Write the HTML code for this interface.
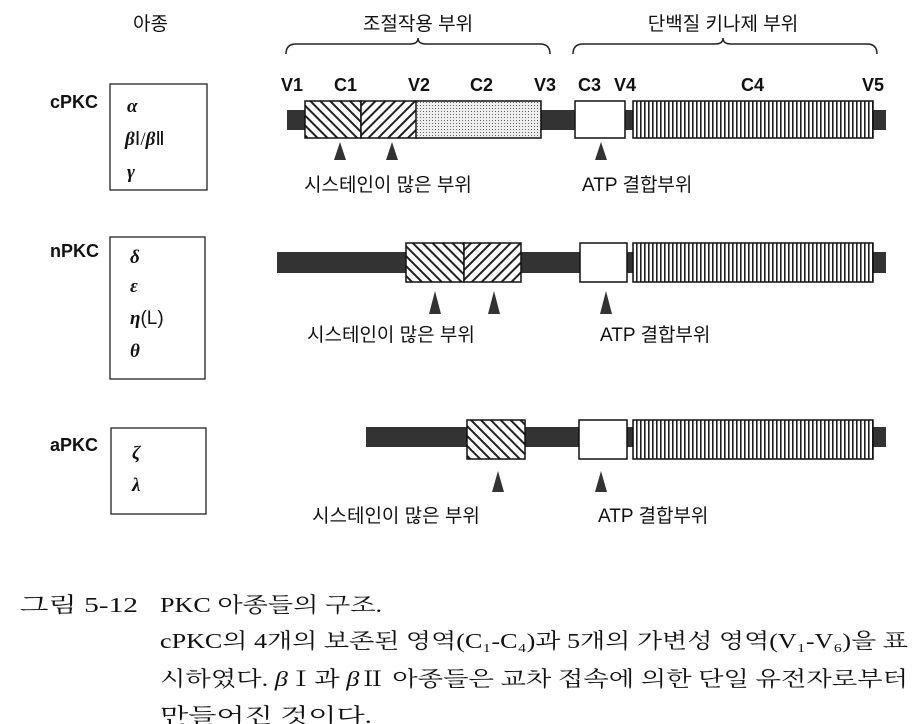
<!DOCTYPE html>
<html><head><meta charset="utf-8"><style>
body{margin:0;background:#fff;width:924px;height:724px;overflow:hidden}
svg{position:absolute;left:0;top:0}
.k{font-family:"Liberation Sans","Noto Sans CJK KR",sans-serif;font-size:19px;fill:#111}
.b{font-family:"Liberation Sans",sans-serif;font-weight:bold;font-size:18px;fill:#111}
.g{font-family:"Liberation Serif",serif;font-style:italic;font-weight:bold;font-size:19px;fill:#111}
.s{font-family:"Liberation Serif","Noto Serif CJK SC","Noto Sans CJK KR",serif;font-size:21px;fill:#111}
</style></head><body>
<svg width="924" height="724" viewBox="0 0 924 724">
<defs>
<pattern id="d2" width="7" height="7" patternUnits="userSpaceOnUse" patternTransform="rotate(45)"><rect width="7" height="7" fill="#fff"/><rect width="2" height="7" fill="#222"/></pattern>
<pattern id="d1" width="7" height="7" patternUnits="userSpaceOnUse" patternTransform="rotate(-45)"><rect width="7" height="7" fill="#fff"/><rect width="2" height="7" fill="#222"/></pattern>
<pattern id="vl" width="4" height="10" patternUnits="userSpaceOnUse"><rect width="4" height="10" fill="#fff"/><rect width="1.6" height="10" fill="#222"/></pattern>
<pattern id="dot" width="3" height="3" patternUnits="userSpaceOnUse"><rect width="3" height="3" fill="#eee"/><rect width="1" height="1" fill="#666"/></pattern>
</defs>
<text class="k" x="133" y="30">아종</text>
<text class="k" x="418" y="30" text-anchor="middle">조절작용 부위</text>
<text class="k" x="723" y="30" text-anchor="middle">단백질 키나제 부위</text>
<path d="M286 54 Q286 44 296 44 L410 44 Q418 44 418 38 Q418 44 426 44 L540 44 Q550 44 550 54" fill="none" stroke="#222" stroke-width="1.5"/>
<path d="M573 54 Q573 44 583 44 L715 44 Q723 44 723 38 Q723 44 731 44 L867 44 Q877 44 877 54" fill="none" stroke="#222" stroke-width="1.5"/>
<g class="b"><text x="281" y="91">V1</text><text x="334" y="91">C1</text><text x="408" y="91">V2</text><text x="470" y="91">C2</text><text x="534" y="91">V3</text><text x="578" y="91">C3</text><text x="614" y="91">V4</text><text x="741" y="91">C4</text><text x="862" y="91">V5</text></g>
<!-- row1 -->
<rect x="287" y="110" width="599" height="20" fill="#333"/>
<rect x="305" y="101" width="56" height="37" fill="url(#d1)" stroke="#111" stroke-width="1.5"/>
<rect x="361" y="101" width="56" height="37" fill="url(#d2)" stroke="#111" stroke-width="1.5"/>
<rect x="416" y="101" width="125" height="37" fill="url(#dot)" stroke="#111" stroke-width="1.5"/>
<rect x="575" y="101" width="50" height="37" fill="#fff" stroke="#111" stroke-width="1.5"/>
<rect x="633" y="101" width="240" height="37" fill="url(#vl)" stroke="#111" stroke-width="1.5"/>
<g fill="#333"><path d="M340 142 L334 160 L346 160Z"/><path d="M392 142 L386 160 L398 160Z"/><path d="M601 142 L595 160 L607 160Z"/></g>
<text class="k" x="304" y="191">시스테인이 많은 부위</text>
<text class="k" x="582" y="191">ATP 결합부위</text>
<!-- row2 -->
<rect x="277" y="252" width="609" height="21" fill="#333"/>
<rect x="406" y="243" width="58" height="39" fill="url(#d1)" stroke="#111" stroke-width="1.5"/>
<rect x="464" y="243" width="57" height="39" fill="url(#d2)" stroke="#111" stroke-width="1.5"/>
<rect x="580" y="243" width="47" height="39" fill="#fff" stroke="#111" stroke-width="1.5"/>
<rect x="633" y="243" width="240" height="39" fill="url(#vl)" stroke="#111" stroke-width="1.5"/>
<g fill="#333"><path d="M435 291 L429 314 L441 314Z"/><path d="M494 291 L488 314 L500 314Z"/><path d="M606 291 L600 314 L612 314Z"/></g>
<text class="k" x="307" y="341">시스테인이 많은 부위</text>
<text class="k" x="600" y="341">ATP 결합부위</text>
<!-- row3 -->
<rect x="366" y="427" width="520" height="20" fill="#333"/>
<rect x="467" y="420" width="58" height="39" fill="url(#d1)" stroke="#111" stroke-width="1.5"/>
<rect x="579" y="420" width="48" height="39" fill="#fff" stroke="#111" stroke-width="1.5"/>
<rect x="633" y="420" width="240" height="39" fill="url(#vl)" stroke="#111" stroke-width="1.5"/>
<g fill="#333"><path d="M498 471 L492 492 L504 492Z"/><path d="M601 471 L595 492 L607 492Z"/></g>
<text class="k" x="312" y="522">시스테인이 많은 부위</text>
<text class="k" x="598" y="522">ATP 결합부위</text>
<!-- left boxes -->
<g class="b"><text x="50" y="108">cPKC</text><text x="50" y="257">nPKC</text><text x="50" y="451">aPKC</text></g>
<rect x="110" y="84" width="97" height="106" fill="none" stroke="#222" stroke-width="1.3"/>
<rect x="110" y="237" width="95" height="142" fill="none" stroke="#222" stroke-width="1.3"/>
<rect x="111" y="428" width="95" height="86" fill="none" stroke="#222" stroke-width="1.3"/>
<g class="g"><text x="127" y="112">α</text><text x="125" y="145">β<tspan font-style="normal" font-weight="normal">Ⅰ/</tspan>β<tspan font-style="normal" font-weight="normal">Ⅱ</tspan></text><text x="127" y="178">γ</text>
<text x="130" y="263">δ</text><text x="130" y="292">ε</text><text x="130" y="324">η<tspan font-style="normal" font-weight="normal" font-family="Liberation Sans,sans-serif">(L)</tspan></text><text x="130" y="357">θ</text>
<text x="132" y="459">ζ</text><text x="132" y="491">λ</text></g>
<!-- caption -->
<text class="s" x="20" y="612" textLength="118" lengthAdjust="spacingAndGlyphs">그림 5-12</text>
<text class="s" x="160" y="612" textLength="222" lengthAdjust="spacingAndGlyphs">PKC 아종들의 구조.</text>
<text class="s" x="160" y="648" textLength="748" lengthAdjust="spacingAndGlyphs">cPKC의 4개의 보존된 영역(C₁-C₄)과 5개의 가변성 영역(V₁-V₆)을 표</text>
<text class="s" x="160" y="686" textLength="748" lengthAdjust="spacingAndGlyphs">시하였다. <tspan font-style="italic">β</tspan>Ⅰ과 <tspan font-style="italic">β</tspan>Ⅱ 아종들은 교차 접속에 의한 단일 유전자로부터</text>
<text class="s" x="160" y="723" textLength="212" lengthAdjust="spacingAndGlyphs">만들어진 것이다.</text>
</svg>
</body></html>
